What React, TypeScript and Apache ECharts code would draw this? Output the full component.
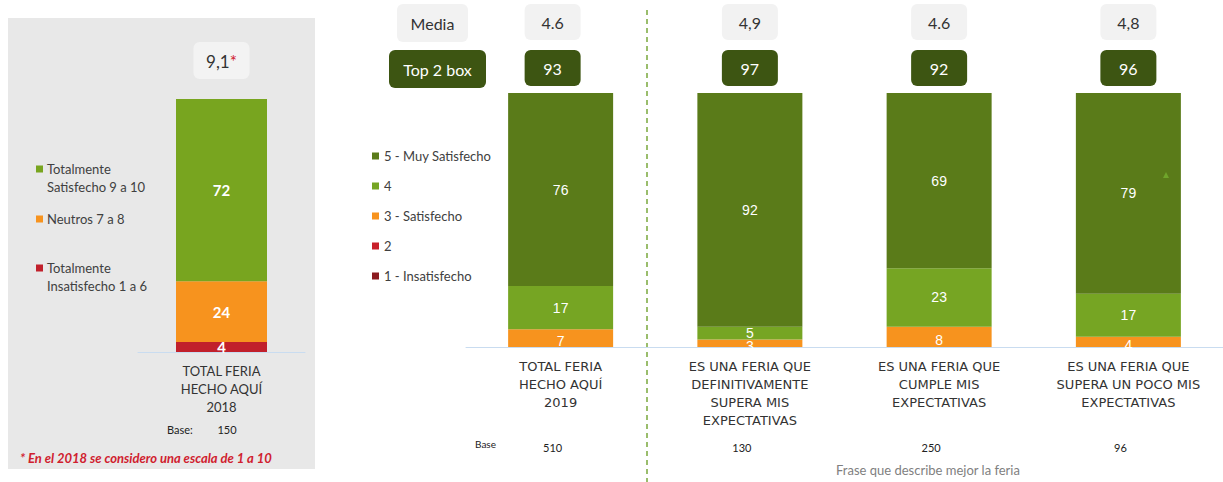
import React, { useEffect, useRef } from "react";
import * as echarts from "echarts";

// ---- Left panel (2018) ----
const leftCategories = ["TOTAL FERIA\nHECHO AQUÍ\n2018"];
const leftLegendNames = ["Totalmente\nSatisfecho 9 a 10", "Neutros 7 a 8", "Totalmente\nInsatisfecho 1 a 6"];
const leftTotSatisfecho = [72];
const leftNeutros = [24];
const leftInsatisfecho = [4];
const leftMean = "9,1";
const leftBase = "150";
const leftNote = "* En el 2018 se considero una escala de 1 a 10";

// ---- Right panel (2019) ----
const rightCategories = [
  "TOTAL FERIA\nHECHO AQUÍ\n2019",
  "ES UNA FERIA QUE\nDEFINITIVAMENTE\nSUPERA MIS\nEXPECTATIVAS",
  "ES UNA FERIA QUE\nCUMPLE MIS\nEXPECTATIVAS",
  "ES UNA FERIA QUE\nSUPERA UN POCO MIS\nEXPECTATIVAS",
];
const seriesNames = ["5 - Muy Satisfecho", "4", "3 - Satisfecho", "2", "1 - Insatisfecho"];
const muySatisfecho = [76, 92, 69, 79];
const cuatro = [17, 5, 23, 17];
const satisfecho = [7, 3, 8, 4];
const dos = [0, 0, 0, 0];
const insatisfecho = [0, 0, 0, 0];
const means = ["4.6", "4,9", "4.6", "4,8"];
const top2 = ["93", "97", "92", "96"];
const bases = ["510", "130", "250", "96"];
const axisTitle = "Frase que describe mejor la feria";

const FONT = "Lato, 'Noto Sans', sans-serif";
const C_DARK = "#5a7b19";
const C_LIGHT = "#76a523";
const C_ORANGE = "#f7931e";
const C_RED = "#c8202a";
const C_DARKRED = "#8b1a1f";

export default function App() {
  const ref = useRef<HTMLDivElement>(null);
  useEffect(() => {
    document.body.style.margin = "0";
    const chart = echarts.init(ref.current!, null, { renderer: "svg" });
    const lbl = (size: number, bold = false) => ({
      show: true,
      position: "inside",
      color: "#fff",
      fontSize: size,
      fontWeight: bold ? "bold" : "normal",
      fontFamily: bold ? FONT : "'Liberation Sans', Arial, sans-serif",
      formatter: (p: any) => (p.value > 0 ? String(p.value) : ""),
    });
    const leftBar = (name: string, data: number[], color: string) => ({
      name,
      type: "bar",
      stack: "L",
      xAxisIndex: 0,
      yAxisIndex: 0,
      barWidth: 91,
      data,
      itemStyle: { color },
      label: lbl(15, true),
      z: 3,
    });
    const rightBar = (name: string, data: number[], color: string, extra: any = {}) => ({
      name,
      type: "bar",
      stack: "R",
      xAxisIndex: 1,
      yAxisIndex: 1,
      barWidth: 105,
      data,
      itemStyle: { color },
      label: { ...lbl(14), ...extra },
      z: 3,
    });
    chart.setOption({
      animation: false,
      grid: [
        { left: 138, top: 99, width: 167, height: 253 },
        { left: 466, top: 93, width: 757, height: 254 },
      ],
      xAxis: [
        {
          type: "category",
          gridIndex: 0,
          data: leftCategories,
          axisLine: { lineStyle: { color: "#c9dcf0", width: 1 } },
          axisTick: { show: false },
          axisLabel: { color: "#333", fontSize: 13, lineHeight: 18, margin: 10, fontFamily: FONT, interval: 0 },
        },
        {
          type: "category",
          gridIndex: 1,
          data: rightCategories,
          axisLine: { lineStyle: { color: "#c9dcf0", width: 1 } },
          axisTick: { show: false },
          axisLabel: { color: "#333", fontSize: 13, lineHeight: 18, margin: 10, fontFamily: "'DejaVu Sans', sans-serif", interval: 0 },
        },
      ],
      yAxis: [
        { type: "value", gridIndex: 0, min: 0, max: 100, show: false },
        { type: "value", gridIndex: 1, min: 0, max: 100, show: false },
      ],
      legend: [
        {
          data: seriesNames,
          orient: "vertical",
          left: 367,
          top: 144,
          itemWidth: 7,
          itemHeight: 7,
          itemGap: 16,
          icon: "rect",
          selectedMode: false,
          textStyle: { fontSize: 13, color: "#404040", lineHeight: 14, fontFamily: FONT },
        },
      ],
      series: [
        leftBar("Totalmente Insatisfecho 1 a 6", leftInsatisfecho, "#c1202b"),
        leftBar("Neutros 7 a 8", leftNeutros, C_ORANGE),
        leftBar("Totalmente Satisfecho 9 a 10", leftTotSatisfecho, "#78a51f"),
        rightBar(seriesNames[4], insatisfecho, C_DARKRED),
        rightBar(seriesNames[3], dos, C_RED),
        rightBar(seriesNames[2], satisfecho, C_ORANGE, { offset: [0, 3] }),
        rightBar(seriesNames[1], cuatro, C_LIGHT),
        rightBar(seriesNames[0], muySatisfecho, C_DARK),
      ],
    });

    const leftCx = chart.convertToPixel({ xAxisIndex: 0 }, 0) as number;
    const centers = rightCategories.map((_, i) => chart.convertToPixel({ xAxisIndex: 1 }, i) as number);

    const g: any[] = [];
    g.push({ type: "rect", z: -10, shape: { x: 8, y: 18, width: 307, height: 451 }, style: { fill: "#e8e8e8" } });
    // left mean box
    g.push({ type: "rect", shape: { x: leftCx - 28, y: 42, width: 56, height: 37, r: 6 }, style: { fill: "#f3f3f3" } });
    g.push({
      type: "text",
      x: leftCx,
      y: 61,
      style: {
        text: "{a|" + leftMean + "}{b|*}",
        align: "center",
        verticalAlign: "middle",
        rich: {
          a: { fontSize: 17, fontFamily: FONT, fill: "#333" },
          b: { fontSize: 17, fontFamily: FONT, fill: "#d0202e", verticalAlign: "top" },
        },
      },
    });
    // left legend
    const leftColors = ["#78a51f", C_ORANGE, "#c1202b"];
    const leftLegY = [169, 219, 268];
    leftLegendNames.forEach((n, i) => {
      g.push({ type: "rect", shape: { x: 36, y: leftLegY[i] - 3.5, width: 7, height: 7 }, style: { fill: leftColors[i] } });
      g.push({
        type: "text",
        x: 47,
        y: leftLegY[i] - 9,
        style: { text: n, fontSize: 13, lineHeight: 18, fontFamily: FONT, fill: "#404040", align: "left", verticalAlign: "top" },
      });
    });
    // left base + note
    g.push({ type: "text", x: 167, y: 429, style: { text: "Base:", fontSize: 11, fontFamily: FONT, fill: "#222", verticalAlign: "middle" } });
    g.push({ type: "text", x: 227, y: 429, style: { text: leftBase, fontSize: 11, fontFamily: FONT, fill: "#222", align: "center", verticalAlign: "middle" } });
    g.push({
      type: "text",
      x: 20,
      y: 458,
      style: { text: leftNote, fontSize: 13, fontWeight: "bold", fontStyle: "italic", fontFamily: FONT, fill: "#d0202e", verticalAlign: "middle" },
    });
    // dashed divider
    g.push({ type: "line", shape: { x1: 647, y1: 10, x2: 647, y2: 482 }, style: { stroke: "#7aa83c", lineWidth: 1.5, lineDash: [5, 4] } });
    // header boxes
    g.push({ type: "rect", shape: { x: 397, y: 4, width: 71, height: 38, r: 6 }, style: { fill: "#f2f2f2" } });
    g.push({ type: "text", x: 432.5, y: 23, style: { text: "Media", fontSize: 16, fontFamily: FONT, fill: "#333", align: "center", verticalAlign: "middle" } });
    g.push({ type: "rect", shape: { x: 389, y: 50, width: 97, height: 38, r: 6 }, style: { fill: "#3d5512" } });
    g.push({ type: "text", x: 437.5, y: 69, style: { text: "Top 2 box", fontSize: 16, fontFamily: FONT, fill: "#fff", align: "center", verticalAlign: "middle" } });
    centers.forEach((cx, i) => {
      const bx = i === 0 ? cx - 8 : cx;
      g.push({ type: "rect", shape: { x: bx - 28, y: 4, width: 56, height: 36, r: 6 }, style: { fill: "#f2f2f2" } });
      g.push({ type: "text", x: bx, y: 22, style: { text: means[i], fontSize: 16, fontFamily: FONT, fill: "#333", align: "center", verticalAlign: "middle" } });
      g.push({ type: "rect", shape: { x: bx - 28, y: 50, width: 56, height: 36, r: 6 }, style: { fill: "#3d5512" } });
      g.push({ type: "text", x: bx, y: 68, style: { text: top2[i], fontSize: 16, fontFamily: FONT, fill: "#fff", align: "center", verticalAlign: "middle" } });
      g.push({ type: "text", x: cx - 8, y: 447, style: { text: bases[i], fontSize: 11, fontFamily: FONT, fill: "#222", align: "center", verticalAlign: "middle" } });
    });
    g.push({ type: "text", x: 475, y: 444, style: { text: "Base", fontSize: 10, fontFamily: FONT, fill: "#222", verticalAlign: "middle" } });
    g.push({ type: "text", x: 836, y: 470, style: { text: axisTitle, fontSize: 13, fontFamily: FONT, fill: "#7f7f7f", verticalAlign: "middle" } });
    // small marker in last bar
    g.push({ type: "polygon", z: 10, shape: { points: [[1163, 178], [1169, 178], [1166, 172]] }, style: { fill: "#6fa52a" } });

    chart.setOption({ graphic: g });
    return () => chart.dispose();
  }, []);
  return <div ref={ref} style={{ width: 1223, height: 482 }} />;
}
